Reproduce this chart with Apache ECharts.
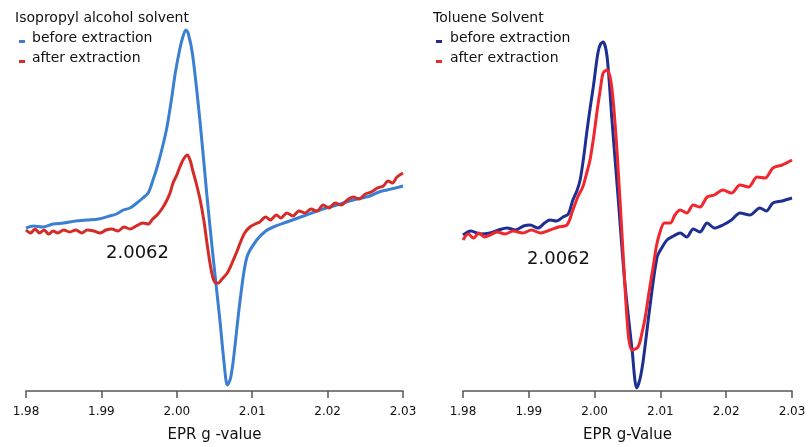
<!DOCTYPE html>
<html>
<head>
<meta charset="utf-8">
<script src="https://cdn.jsdelivr.net/npm/echarts@6/dist/echarts.min.js"></script>
<style>
  html, body { margin: 0; padding: 0; background: #fff; }
  #main { width: 809px; height: 447px; }
</style>
</head>
<body>
<div id="main"></div>
<script>
// g-values and signal (arbitrary units)
var ticks = [1.98, 1.99, 2.00, 2.01, 2.02, 2.03];

// Isopropyl alcohol - before extraction
var ipaBeforeG = [1.9800, 1.9810, 1.9822, 1.9836, 1.9850, 1.9866, 1.9881, 1.9896, 1.9911, 1.9920, 1.9929, 1.9938, 1.9947, 1.9955, 1.9962, 1.9968, 1.9974, 1.9981, 1.9987, 1.9993, 1.9998, 2.0004, 2.0008, 2.0012, 2.0015, 2.0021, 2.0031, 2.0040, 2.0048, 2.0057, 2.0063, 2.0067, 2.0071, 2.0075, 2.0084, 2.0093, 2.0106, 2.0118, 2.0128, 2.0146, 2.0168, 2.0190, 2.0212, 2.0234, 2.0256, 2.0268, 2.0279, 2.0290, 2.0300];
var ipaBefore = [163, 165, 164, 167, 168, 170, 171, 172, 175, 177, 181, 183, 188, 193, 198, 210, 224, 244, 264, 292, 318, 342, 354, 361, 358, 336, 268, 195, 135, 72, 26, 6, 12, 31, 91, 134, 151, 160, 164, 169, 175, 181, 186, 191, 195, 199, 201, 203, 205];

// Isopropyl alcohol - after extraction
var ipaAfterG = [1.9800, 1.9806, 1.9812, 1.9818, 1.9824, 1.9830, 1.9836, 1.9842, 1.9850, 1.9858, 1.9866, 1.9874, 1.9881, 1.9890, 1.9898, 1.9906, 1.9914, 1.9922, 1.9930, 1.9938, 1.9946, 1.9955, 1.9962, 1.9968, 1.9974, 1.9981, 1.9987, 1.9991, 1.9995, 2.0000, 2.0004, 2.0009, 2.0014, 2.0018, 2.0021, 2.0026, 2.0031, 2.0036, 2.0040, 2.0044, 2.0048, 2.0052, 2.0055, 2.0060, 2.0067, 2.0071, 2.0075, 2.0080, 2.0084, 2.0090, 2.0097, 2.0104, 2.0110, 2.0118, 2.0124, 2.0132, 2.0138, 2.0146, 2.0154, 2.0162, 2.0170, 2.0178, 2.0186, 2.0194, 2.0202, 2.0210, 2.0218, 2.0226, 2.0234, 2.0242, 2.0250, 2.0258, 2.0266, 2.0274, 2.0280, 2.0286, 2.0292, 2.0300];
var ipaAfter = [161, 158, 162, 158, 161, 157, 160, 158, 161, 159, 161, 158, 161, 160, 158, 161, 162, 160, 164, 162, 165, 168, 167, 172, 176, 183, 191, 198, 208, 216, 224, 232, 236, 230, 221, 207, 191, 170, 148, 128, 113, 108, 108, 112, 118, 124, 131, 140, 148, 158, 164, 167, 169, 174, 171, 176, 173, 178, 175, 180, 178, 182, 180, 186, 183, 188, 186, 191, 194, 192, 197, 199, 203, 205, 210, 208, 214, 218];

// Toluene - before extraction
var tolBeforeG = [1.9800, 1.9812, 1.9826, 1.9841, 1.9854, 1.9867, 1.9880, 1.9892, 1.9902, 1.9914, 1.9924, 1.9932, 1.9942, 1.9952, 1.9960, 1.9967, 1.9973, 1.9978, 1.9983, 1.9988, 1.9993, 1.9998, 2.0005, 2.0009, 2.0013, 2.0019, 2.0026, 2.0036, 2.0046, 2.0057, 2.0064, 2.0069, 2.0074, 2.0084, 2.0095, 2.0102, 2.0110, 2.0120, 2.0130, 2.0140, 2.0150, 2.0160, 2.0171, 2.0182, 2.0195, 2.0208, 2.0221, 2.0236, 2.0251, 2.0261, 2.0271, 2.0285, 2.0300];
var tolBefore = [156, 160, 157, 158, 161, 163, 161, 165, 166, 163, 168, 171, 170, 174, 177, 191, 200, 211, 232, 258, 282, 304, 338, 347, 349, 334, 274, 191, 108, 41, 3, 12, 31, 84, 134, 143, 151, 155, 158, 154, 162, 159, 168, 163, 166, 171, 178, 176, 183, 180, 188, 190, 193];

// Toluene - after extraction
var tolAfterG = [1.9800, 1.9808, 1.9816, 1.9824, 1.9833, 1.9841, 1.9852, 1.9864, 1.9876, 1.9891, 1.9904, 1.9918, 1.9932, 1.9945, 1.9958, 1.9967, 1.9975, 1.9982, 1.9988, 1.9993, 1.9999, 2.0004, 2.0009, 2.0013, 2.0019, 2.0026, 2.0034, 2.0043, 2.0051, 2.0057, 2.0066, 2.0072, 2.0077, 2.0083, 2.0089, 2.0094, 2.0099, 2.0106, 2.0115, 2.0122, 2.0130, 2.0140, 2.0150, 2.0160, 2.0171, 2.0182, 2.0195, 2.0208, 2.0221, 2.0234, 2.0247, 2.0259, 2.0271, 2.0285, 2.0300];
var tolAfter = [151, 157, 153, 158, 154, 156, 159, 157, 160, 158, 161, 158, 161, 164, 166, 181, 195, 204, 218, 231, 256, 281, 303, 318, 321, 304, 241, 141, 58, 41, 44, 58, 74, 100, 124, 145, 158, 168, 168, 176, 181, 178, 186, 184, 194, 196, 201, 198, 206, 204, 214, 213, 223, 226, 231];

function pairs(xs, ys) {
    return xs.map(function (x, i) { return [x, ys[i]]; });
}

var chart = echarts.init(document.getElementById('main'), null, { renderer: 'canvas' });

var textColor = '#111';
var fontFam = 'DejaVu Sans';

function xAxisFor(idx, name) {
    return {
        gridIndex: idx,
        type: 'value',
        min: ticks[0],
        max: ticks[ticks.length - 1],
        interval: 0.01,
        name: name,
        nameLocation: 'middle',
        nameGap: 37,
        nameTextStyle: { color: textColor, fontSize: 15, fontFamily: fontFam },
        axisLine: { show: true, lineStyle: { color: '#555', width: 1.5 } },
        axisTick: { show: true, length: 7, lineStyle: { color: '#555', width: 1.5 } },
        axisLabel: {
            color: textColor,
            fontSize: 12,
            fontFamily: fontFam,
            margin: 15,
            formatter: function (v) { return v.toFixed(2); }
        },
        splitLine: { show: false }
    };
}

function yAxisFor(idx) {
    return { gridIndex: idx, type: 'value', min: 0, max: 391, show: false };
}

function line(name, idx, data, color) {
    return {
        name: name,
        type: 'line',
        xAxisIndex: idx,
        yAxisIndex: idx,
        data: data,
        smooth: 0.3,
        showSymbol: false,
        lineStyle: { color: color, width: 3 },
        itemStyle: { color: color },
        silent: true
    };
}

function label(x, y, text, size) {
    return {
        type: 'text', left: x, top: y,
        style: { text: text, fill: textColor, font: size + 'px "' + fontFam + '"' }
    };
}

function dash(x, y, color) {
    return { type: 'rect', left: x, top: y, shape: { width: 6, height: 3 }, style: { fill: color } };
}

var option = {
    backgroundColor: '#fff',
    animation: false,
    grid: [
        { left: 26, width: 377, top: 0, height: 391, outerBoundsMode: 'none', containLabel: false },
        { left: 463, width: 329, top: 0, height: 391, outerBoundsMode: 'none', containLabel: false }
    ],
    xAxis: [xAxisFor(0, 'EPR g -value'), xAxisFor(1, 'EPR g-Value')],
    yAxis: [yAxisFor(0), yAxisFor(1)],
    series: [
        line('before extraction', 0, pairs(ipaBeforeG, ipaBefore), '#3b7fd2'),
        line('after extraction', 0, pairs(ipaAfterG, ipaAfter), '#d52b27'),
        line('before extraction', 1, pairs(tolBeforeG, tolBefore), '#1e2f94'),
        line('after extraction', 1, pairs(tolAfterG, tolAfter), '#f0272d')
    ],
    graphic: [
        // left panel
        label(15, 11, 'Isopropyl alcohol solvent', 14),
        dash(19, 40, '#3b7fd2'),
        label(32, 31, 'before extraction', 14),
        dash(19, 60, '#d52b27'),
        label(32, 51, 'after extraction', 14),
        label(106, 244, '2.0062', 18),
        // right panel
        label(433, 11, 'Toluene Solvent', 14),
        dash(436, 40, '#1e2f94'),
        label(450, 31, 'before extraction', 14),
        dash(436, 60, '#f0272d'),
        label(450, 51, 'after extraction', 14),
        label(527, 250, '2.0062', 18)
    ]
};

chart.setOption(option);
</script>
</body>
</html>
